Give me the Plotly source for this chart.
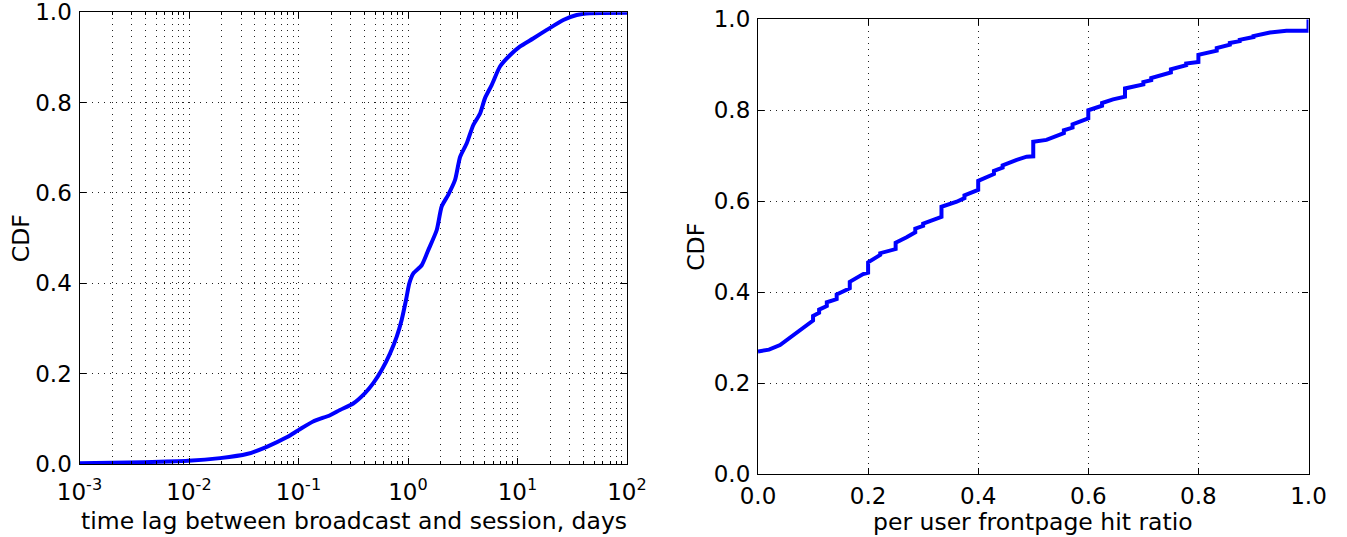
import plotly.graph_objects as go

# ---- Left panel: CDF of time lag (days, log axis) ----
lag_days = [0.001, 0.00383, 0.00986, 0.0192, 0.0337, 0.0513, 0.078, 0.1, 0.136,
            0.194, 0.239, 0.316, 0.405, 0.482, 0.575, 0.686, 0.789, 0.875, 0.959,
            1.028, 1.119, 1.334, 1.535, 1.83, 2.03, 2.33, 2.69, 2.99, 3.44, 3.94,
            4.55, 5.05, 5.81, 6.92, 8.53, 10.5, 13.9, 18.5, 26.2, 34.7, 45.9, 100.0]
lag_cdf = [0.0015, 0.004, 0.007, 0.013, 0.022, 0.038, 0.059, 0.075, 0.094,
           0.108, 0.1195, 0.134, 0.157, 0.179, 0.208, 0.245, 0.282, 0.319, 0.363,
           0.40, 0.422, 0.44, 0.474, 0.518, 0.570, 0.596, 0.629, 0.680, 0.71, 0.75,
           0.776, 0.81, 0.839, 0.88, 0.905, 0.924, 0.942, 0.961, 0.983, 0.994, 0.998, 0.999]

# ---- Right panel: CDF of per user frontpage hit ratio ----
hit_ratio = [0.0, 0.02, 0.04, 0.064, 0.082,
             0.1, 0.1, 0.111, 0.111, 0.125, 0.125, 0.1429, 0.1429, 0.1667, 0.1667,
             0.191, 0.2, 0.2, 0.222, 0.222, 0.25, 0.25, 0.27, 0.2857, 0.2857,
             0.3, 0.3, 0.312, 0.3333, 0.3333, 0.361, 0.375, 0.375, 0.4, 0.4,
             0.4286, 0.4286, 0.4444, 0.4444, 0.47, 0.488, 0.5, 0.5, 0.524,
             0.5556, 0.5556, 0.5714, 0.5714, 0.6, 0.6, 0.625, 0.625, 0.645,
             0.6667, 0.6667, 0.7, 0.7, 0.7143, 0.7143, 0.75, 0.75, 0.7778, 0.7778,
             0.8, 0.8, 0.8333, 0.8333, 0.8571, 0.8571, 0.875, 0.875, 0.9, 0.9,
             0.93, 0.96, 1.0, 1.0]
hit_cdf = [0.270, 0.274, 0.284, 0.306, 0.323,
           0.338, 0.348, 0.355, 0.362, 0.370, 0.378, 0.385, 0.395, 0.409, 0.423,
           0.440, 0.443, 0.466, 0.482, 0.486, 0.495, 0.509, 0.521, 0.532, 0.540,
           0.546, 0.551, 0.557, 0.566, 0.588, 0.599, 0.607, 0.613, 0.625, 0.645,
           0.660, 0.667, 0.674, 0.679, 0.691, 0.698, 0.699, 0.731, 0.735,
           0.750, 0.756, 0.762, 0.769, 0.782, 0.800, 0.810, 0.816, 0.824,
           0.830, 0.848, 0.857, 0.862, 0.866, 0.871, 0.883, 0.890, 0.899, 0.903,
           0.906, 0.922, 0.931, 0.937, 0.944, 0.948, 0.952, 0.955, 0.961, 0.963,
           0.971, 0.975, 0.975, 1.0]

left_tickvals = [0.001, 0.01, 0.1, 1, 10, 100]
left_ticktext = ["10<sup>-3</sup>", "10<sup>-2</sup>", "10<sup>-1</sup>",
                 "10<sup>0</sup>", "10<sup>1</sup>", "10<sup>2</sup>"]
cdf_ticks = [0.0, 0.2, 0.4, 0.6, 0.8, 1.0]
cdf_ticktext = ["0.0", "0.2", "0.4", "0.6", "0.8", "1.0"]

left_xlabel = "time lag between broadcast and session, days"
right_xlabel = "per user frontpage hit ratio"
ylabel = "CDF"

W, H = 1347, 537
FONT = "DejaVu Sans"
FS_TICK = 23
FS_TITLE = 23.5
LINE_BLUE = "#0000ff"
GRID = dict(showgrid=True, gridcolor="#222", gridwidth=1, griddash="1px,5px")

fig = go.Figure()
fig.add_trace(go.Scatter(x=lag_days, y=lag_cdf, mode="lines",
                         line=dict(color=LINE_BLUE, width=4, shape="spline", smoothing=0.6),
                         xaxis="x", yaxis="y", showlegend=False, hoverinfo="skip"))
fig.add_trace(go.Scatter(x=hit_ratio, y=hit_cdf, mode="lines",
                         line=dict(color=LINE_BLUE, width=4),
                         xaxis="x2", yaxis="y2", showlegend=False, hoverinfo="skip"))

# pixel geometry of the two panels
L_x0, L_x1, L_top, L_bot = 79.5, 627.0, 12.3, 464.0
R_x0, R_x1, R_top, R_bot = 758.0, 1308.5, 19.3, 474.3

def dom_x(a, b):
    return [a / W, b / W]

def dom_y(top, bot):
    return [(H - bot) / H, (H - top) / H]

axis_common = dict(showline=True, linecolor="black", linewidth=1.2, mirror="allticks",
                   ticks="inside", ticklen=6, tickcolor="black", tickwidth=1,
                   tickfont=dict(family=FONT, size=FS_TICK, color="black"),
                   ticklabeloverflow="allow",
                   zeroline=False, automargin=False, **GRID)

fig.update_layout(
    width=W, height=H,
    margin=dict(l=0, r=0, t=0, b=0),
    paper_bgcolor="white", plot_bgcolor="white",
    font=dict(family=FONT, size=FS_TICK, color="black"),
    xaxis=dict(domain=dom_x(L_x0, L_x1), anchor="y", type="log", range=[-3, 2],
               tickmode="array", tickvals=left_tickvals, ticktext=left_ticktext,
               ticklabelstandoff=7,
               minor=dict(dtick="D1", ticks="inside", ticklen=3, tickcolor="black",
                          showgrid=True, gridcolor="#222", gridwidth=1, griddash="1px,5px"),
               **axis_common),
    yaxis=dict(domain=dom_y(L_top, L_bot), anchor="x", range=[0, 1],
               tickmode="array", tickvals=cdf_ticks, ticktext=cdf_ticktext,
               ticklabelstandoff=2,
               **axis_common),
    xaxis2=dict(domain=dom_x(R_x0, R_x1), anchor="y2", range=[0, 1],
                tickmode="array", tickvals=cdf_ticks, ticktext=cdf_ticktext,
                ticklabelstandoff=1,
                **axis_common),
    yaxis2=dict(domain=dom_y(R_top, R_bot), anchor="x2", range=[0, 1],
                tickmode="array", tickvals=cdf_ticks, ticktext=cdf_ticktext,
                ticklabelstandoff=2,
                **axis_common),
)

def px_x(p):
    return p / W

def px_y(p):
    return (H - p) / H

annos = [
    dict(text=left_xlabel, x=px_x((L_x0 + L_x1) / 2 + 1), y=px_y(521)),
    dict(text=right_xlabel, x=px_x((R_x0 + R_x1) / 2), y=px_y(522)),
    dict(text=ylabel, x=px_x(21), y=px_y((L_top + L_bot) / 2), textangle=-90),
    dict(text=ylabel, x=px_x(696), y=px_y((R_top + R_bot) / 2), textangle=-90),
]
for a in annos:
    fig.add_annotation(xref="paper", yref="paper", showarrow=False,
                       xanchor="center", yanchor="middle",
                       font=dict(family=FONT, size=FS_TITLE, color="black"), **a)

fig.write_html("out.html", config={"displayModeBar": False},
               post_script="document.body.style.margin='0';document.body.style.overflow='hidden';")
